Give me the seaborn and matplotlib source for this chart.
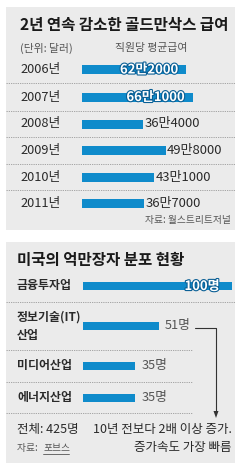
import matplotlib
matplotlib.use('Agg')
import matplotlib.pyplot as plt
import matplotlib.transforms as mtransforms
import matplotlib.patheffects as pe
from matplotlib.patches import Rectangle, Polygon
from matplotlib.lines import Line2D
import seaborn as sns
import pandas as pd

# ---------------- data ----------------
title1 = '2년 연속 감소한 골드만삭스 급여'
unit_label = '(단위: 달러)'
series_label = '직원당 평균급여'
years = ['2006년', '2007년', '2008년', '2009년', '2010년', '2011년']
salary = [622000, 661000, 364000, 498000, 431000, 367000]
salary_labels = ['62만2000', '66만1000', '36만4000', '49만8000', '43만1000', '36만7000']
source1 = '자료: 월스트리트저널'

title2 = '미국의 억만장자 분포 현황'
industries = ['금융투자업', '정보기술(IT)\n산업', '미디어산업', '에너지산업']
billionaires = [100, 51, 35, 35]
billionaire_labels = ['100명', '51명', '35명', '35명']
total_label = '전체: 425명'
note_lines = ['10년 전보다 2배 이상 증가.', '증가속도 가장 빠름']
source2_prefix = '자료: '
source2_name = '포브스'

# ---------------- layout (pixels) ----------------
W, H = 250, 472
row1_y = [69.5, 97, 124, 150.5, 177, 203]
row2_y = [286, 326, 366, 398]
sep2_y = [302, 350, 382, 413]
BLUE = '#0f8bcb'
BG = '#ebebeb'
DARK = '#2a2a2a'
GRAY = '#555555'

sns.set_theme(style='white')
plt.rcParams['font.family'] = ['Noto Sans CJK KR', 'DejaVu Sans']

fig = plt.figure(figsize=(W / 100, H / 100), dpi=100)
fig.patch.set_facecolor('white')
PX = mtransforms.Affine2D().scale(1 / W, -1 / H).translate(0, 1) + fig.transFigure

# panel backgrounds
fig.add_artist(Rectangle((6, 7), 229, 223, transform=PX, facecolor=BG, edgecolor='none', zorder=-5))
fig.add_artist(Rectangle((6, 242), 229, 221, transform=PX, facecolor=BG, edgecolor='none', zorder=-5))

def sep(x0, x1, y):
    fig.add_artist(Line2D([x0, x1], [y, y], transform=PX, color='#9a9a9a', lw=0.6,
                          linestyle=(0, (1.5, 1.2)), zorder=-1))

# ---------------- panel 1 ----------------
K1 = 1.68e-4  # px per dollar
ax1 = fig.add_axes([0, 0, 1, 1])
df1 = pd.DataFrame({'year': years, 'salary': salary, 'ypos': row1_y})
sns.barplot(data=df1, x='salary', y='ypos', orient='h', native_scale=True,
            width=9 / 26, color=BLUE, saturation=1, ax=ax1, edgecolor='none', linewidth=0)
ax1.set_xlim(-82 / K1, (W - 82) / K1)
ax1.set_ylim(H, 0)
ax1.set_axis_off()

fig.text(20, 25, title1, transform=PX, fontsize=11.2, fontweight='bold', color='#1a1a1a',
         va='center', ha='left')
fig.text(20, 48, unit_label, transform=PX, fontsize=7.8, color=GRAY, va='center', ha='left')
fig.text(151, 48, series_label, transform=PX, fontsize=7.8, color=GRAY, va='center', ha='center')

out1 = mtransforms.offset_copy(ax1.transData, fig=fig, x=1.5, y=0, units='dots')
in1 = mtransforms.offset_copy(ax1.transData, fig=fig, x=-8, y=0, units='dots')
for yl, v, lab, yp in zip(years, salary, salary_labels, row1_y):
    fig.text(20, yp, yl, transform=PX, fontsize=9.2, color=DARK, va='center', ha='left')
    if v >= 600000:
        ax1.text(v, yp, lab, transform=in1, fontsize=9.4, color='white', va='center', ha='right',
                 fontweight='bold',
                 path_effects=[pe.withStroke(linewidth=1.6, foreground='#0a5f95')])
    else:
        ax1.text(v, yp, lab, transform=out1, fontsize=9.4, color=DARK, va='center', ha='left')
for a, b in zip(row1_y[:-1], row1_y[1:]):
    sep(6, 235, (a + b) / 2)
fig.text(231, 220, source1, transform=PX, fontsize=7, color=GRAY, va='center', ha='right')

# ---------------- panel 2 ----------------
K2 = 1.49  # px per person
ax2 = fig.add_axes([0, 0, 1, 1])
df2 = pd.DataFrame({'industry': industries, 'count': billionaires, 'ypos': row2_y})
sns.barplot(data=df2, x='count', y='ypos', orient='h', native_scale=True,
            width=8.5 / 32, color=BLUE, saturation=1, ax=ax2, edgecolor='none', linewidth=0)
ax2.set_xlim(-83 / K2, (W - 83) / K2)
ax2.set_ylim(H, 0)
ax2.set_axis_off()

fig.text(17, 260, title2, transform=PX, fontsize=11.2, fontweight='bold', color='#1a1a1a',
         va='center', ha='left')
out2 = mtransforms.offset_copy(ax2.transData, fig=fig, x=6, y=0, units='dots')
in2 = mtransforms.offset_copy(ax2.transData, fig=fig, x=-12, y=0, units='dots')
for ind, v, lab, yp in zip(industries, billionaires, billionaire_labels, row2_y):
    fig.text(17, yp, ind, transform=PX, fontsize=8.6, fontweight='bold', color=DARK,
             va='center', ha='left', linespacing=1.55)
    if v >= 90:
        ax2.text(v, yp, lab, transform=in2, fontsize=9.4, color='white', va='center', ha='right',
                 fontweight='bold',
                 path_effects=[pe.withStroke(linewidth=1.6, foreground='#0a5f95')])
    else:
        ax2.text(v, yp, lab, transform=out2, fontsize=9.2, color=GRAY, va='center', ha='left')
sep(6, 235, sep2_y[0])
for y in sep2_y[1:]:
    sep(6, 192, y)

# arrow from the IT label down to the note
fig.add_artist(Line2D([195, 216, 216], [327.5, 327.5, 412], transform=PX, color='#333333', lw=0.8))
fig.add_artist(Polygon([(213.5, 411), (218.5, 411), (216, 418)], closed=True, transform=PX,
                       facecolor='#333333', edgecolor='none'))

fig.text(17, 429, total_label, transform=PX, fontsize=9, color=DARK, va='center', ha='left')
fig.text(232, 429, note_lines[0], transform=PX, fontsize=9, color=DARK, va='center', ha='right')
fig.text(232, 447, note_lines[1], transform=PX, fontsize=9, color=DARK, va='center', ha='right')
fig.text(17, 448, source2_prefix, transform=PX, fontsize=7, color=GRAY, va='center', ha='left')
fig.text(43, 448, source2_name, transform=PX, fontsize=7, color=GRAY, va='center', ha='left')
fig.add_artist(Line2D([43, 69], [453.5, 453.5], transform=PX, color=GRAY, lw=0.6))

fig.savefig('out.png', dpi=100, facecolor='white')
